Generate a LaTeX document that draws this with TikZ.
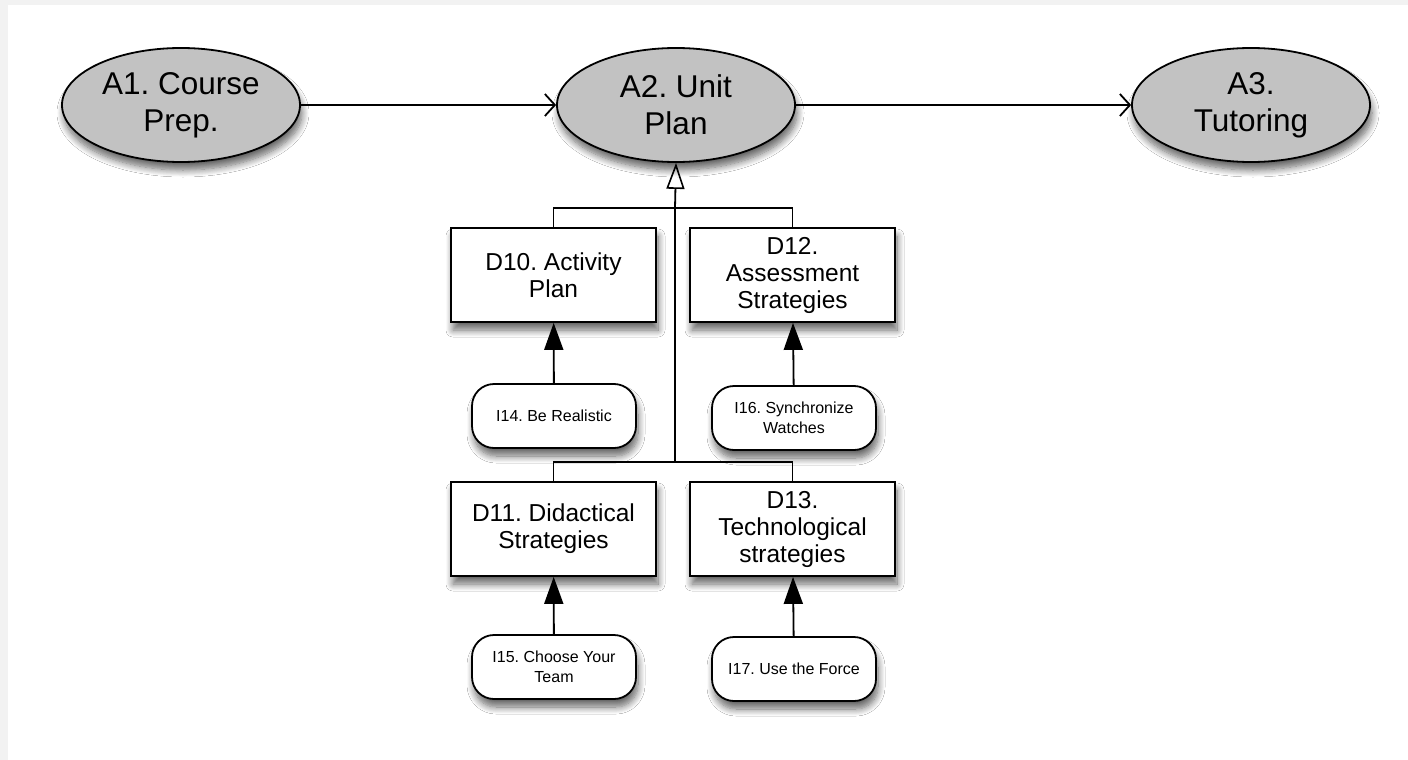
\documentclass[tikz,border=0pt]{standalone}
\usepackage{fontspec}
\setmainfont{Liberation Sans}
\frenchspacing
\usetikzlibrary{shapes.geometric,arrows.meta,shadows.blur}
\definecolor{ellfill}{HTML}{C2C2C2}
\definecolor{outer}{HTML}{F2F2F2}
\tikzset{
  shad/.style={blur shadow={shadow xshift=2pt,shadow yshift=-8pt,shadow blur steps=10,shadow blur radius=7pt,shadow opacity=60}},
  act/.style={ellipse,draw,line width=1.8pt,fill=ellfill,minimum width=238pt,minimum height=114pt,inner sep=0pt,
    align=center,font=\fontsize{31.5}{37}\selectfont,shad},
  dec/.style={rectangle,draw,line width=1.8pt,fill=white,minimum width=205pt,minimum height=94pt,inner sep=0pt,
    align=center,font=\fontsize{24.5}{27}\selectfont,shad},
  ins/.style={rectangle,rounded corners=22pt,draw,line width=1.8pt,fill=white,minimum width=164pt,minimum height=64pt,inner sep=0pt,
    align=center,font=\fontsize{16}{20}\selectfont,shad},
  conn/.style={line width=1.8pt},
  flow/.style={conn,-{Straight Barb[length=10pt,width=22pt,line width=1.8pt]}},
  gen/.style={conn,-{Triangle[open,length=26pt,width=18pt,line width=1.6pt]}},
  inf/.style={conn,-{Triangle[length=27pt,width=19pt]}}
}
\begin{document}
\begin{tikzpicture}[x=1pt,y=-1pt]
\fill[outer] (0,0) rectangle (1408,760);
\fill[white] (8,5) rectangle (1408,760);
\useasboundingbox (0,0) rectangle (1408,760);

\node[act] (a1) at (181,105) {A1. Course\\Prep.};
\node[act] (a2) at (676,105) {A2. Unit\\Plan};
\node[act] (a3) at (1251,105) {A3.\\Tutoring};

\node[dec] (d10) at (553.5,275) {D10. Activity\\Plan};
\node[dec] (d12) at (792.5,275) {D12.\\Assessment\\Strategies};
\node[dec] (d11) at (553.5,529) {D11. Didactical\\Strategies};
\node[dec] (d13) at (792.5,529) {D13.\\Technological\\strategies};

\node[ins] (i14) at (554,416) {I14. Be Realistic};
\node[ins] (i16) at (794,418) {I16. Synchronize\\Watches};
\node[ins] (i15) at (554,667) {I15. Choose Your\\Team};
\node[ins] (i17) at (794,669) {I17. Use the Force};

\draw[flow] (a1) -- (a2);
\draw[flow] (a2) -- (a3);

\coordinate (top) at (675,208);
\coordinate (bot) at (675,462);
\draw[conn] (d10.north) |- (top) -| (d12.north);
\draw[conn] (d11.north) |- (bot) -| (d13.north);
\draw[conn] (bot) -- (top);
\draw[gen] (top) -- (a2.south);

\draw[inf] (i14) -- (d10);
\draw[inf] (i16) -- (d12);
\draw[inf] (i15) -- (d11);
\draw[inf] (i17) -- (d13);
\end{tikzpicture}
\end{document}
